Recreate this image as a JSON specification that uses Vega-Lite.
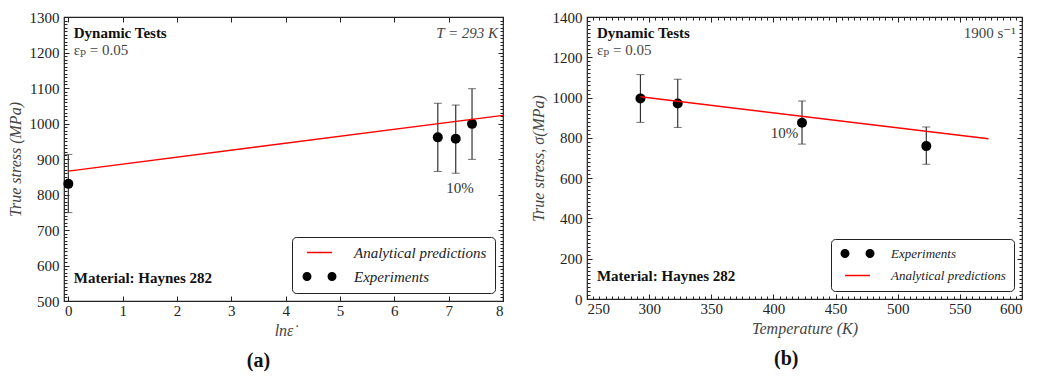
{
  "$schema": "https://vega.github.io/schema/vega-lite/v6.json",
  "background": "white",
  "padding": {"left": 6, "top": 9, "right": 5, "bottom": 5},
  "spacing": 18,
  "config": {
    "font": "Liberation Serif, DejaVu Serif, serif",
    "view": {"stroke": "#222", "strokeWidth": 1.2},
    "axis": {"domain": false, "grid": false, "tickColor": "#222", "tickSize": -5, "tickWidth": 1, "labelFont": "Liberation Serif, DejaVu Serif, serif", "labelFontSize": 15, "labelColor": "#222", "labelPadding": 10, "format": "d", "titleFont": "Liberation Serif, DejaVu Serif, serif", "titleFontStyle": "italic", "titleFontWeight": "normal", "titleFontSize": 16, "titleColor": "#444"},
    "axisX": {"labelPadding": 7, "titlePadding": 4},
    "axisY": {"titlePadding": 6},
    "legend": {"orient": "bottom-right", "offset": 8, "strokeColor": "#222", "fillColor": "white", "cornerRadius": 4, "padding": 8, "labelFont": "Liberation Serif, DejaVu Serif, serif", "labelFontStyle": "italic", "labelFontSize": 15, "labelColor": "#222", "symbolSize": 100, "symbolOffset": 12, "labelOffset": 27, "rowPadding": 8, "symbolOpacity": 1, "symbolStrokeWidth": 0},
    "text": {"font": "Liberation Serif, DejaVu Serif, serif"},
    "title": {"font": "Liberation Serif, DejaVu Serif, serif", "fontSize": 20, "fontWeight": "bold", "color": "#111", "orient": "bottom", "offset": 13, "frame": "bounds", "anchor": "middle"}
  },
  "resolve": {"scale": {"color": "independent", "shape": "independent"}, "legend": {"color": "independent", "shape": "independent"}},
  "hconcat": [
    {
      "width": 439,
      "height": 284,
      "title": {"text": "(a)"},
      "data": {"values": [
        {"series": "Analytical predictions", "x": 0, "y": 866},
        {"series": "Analytical predictions", "x": 8, "y": 1023},
        {"series": "Experiments", "x": 0, "y": 830, "lo": 749, "hi": 913},
        {"series": "Experiments", "x": 6.8, "y": 961, "lo": 865, "hi": 1057},
        {"series": "Experiments", "x": 7.13, "y": 957, "lo": 860, "hi": 1052},
        {"series": "Experiments", "x": 7.43, "y": 999, "lo": 899, "hi": 1098}
      ]},
      "resolve": {"axis": {"x": "independent", "y": "independent"}},
      "layer": [
        {
          "transform": [{"filter": "datum.series === 'Experiments'"}],
          "mark": {"type": "errorbar", "ticks": {"size": 8, "color": "#333"}, "rule": {"color": "#333", "strokeWidth": 1.2}},
          "encoding": {
            "x": {"field": "x", "type": "quantitative", "scale": {"domain": [-0.08, 8], "nice": false, "zero": false}, "axis": {"orient": "bottom", "title": "lnε̇", "tickCount": 9}},
            "y": {"field": "lo", "type": "quantitative", "scale": {"domain": [500, 1300], "nice": false, "zero": false}, "axis": {"orient": "left", "title": "True stress (MPa)", "tickCount": 8}},
            "y2": {"field": "hi"}
          }
        },
        {
          "transform": [{"filter": "datum.series === 'Experiments'"}],
          "mark": {"type": "circle", "size": 100, "color": "black", "opacity": 1},
          "encoding": {
            "x": {"field": "x", "type": "quantitative", "scale": {"domain": [-0.08, 8], "nice": false, "zero": false}, "axis": {"orient": "top", "title": null, "labels": false, "tickCount": 9}},
            "y": {"field": "y", "type": "quantitative", "scale": {"domain": [500, 1300], "nice": false, "zero": false}, "axis": {"orient": "right", "title": null, "labels": false, "tickCount": 8}}
          }
        },
        {
          "transform": [{"filter": "datum.series === 'Analytical predictions'"}],
          "mark": {"type": "line", "color": "red", "strokeWidth": 1.3},
          "encoding": {
            "x": {"field": "x", "type": "quantitative", "scale": {"domain": [-0.08, 8], "nice": false, "zero": false}, "axis": null},
            "y": {"field": "y", "type": "quantitative", "scale": {"domain": [500, 1300], "nice": false, "zero": false}, "axis": {"orient": "left", "title": null, "labels": false, "tickCount": 80, "tickSize": -3}}
          }
        },
        {
          "mark": {"type": "point", "filled": true, "opacity": 0},
          "encoding": {
            "x": {"field": "x", "type": "quantitative", "scale": {"domain": [-0.08, 8], "nice": false, "zero": false}, "axis": null},
            "y": {"field": "y", "type": "quantitative", "scale": {"domain": [500, 1300], "nice": false, "zero": false}, "axis": {"orient": "right", "title": null, "labels": false, "tickCount": 80, "tickSize": -3}},
            "color": {"field": "series", "type": "nominal", "scale": {"domain": ["Analytical predictions", "Experiments"], "range": ["red", "black"]}, "legend": {"title": null}},
            "shape": {"field": "series", "type": "nominal", "scale": {"domain": ["Analytical predictions", "Experiments"], "range": ["M-2.5,-0.15L2.5,-0.15L2.5,0.15L-2.5,0.15Z", "M-3.4,0A0.9,0.9 0 1,0 -1.6,0A0.9,0.9 0 1,0 -3.4,0Z M1.6,0A0.9,0.9 0 1,0 3.4,0A0.9,0.9 0 1,0 1.6,0Z"]}, "legend": {"title": null}}
          }
        },
        {
          "data": {"values": [{}]},
          "mark": {"type": "text", "text": "Dynamic Tests", "align": "left", "baseline": "middle", "fontWeight": "bold", "fontSize": 15, "color": "#111"},
          "encoding": {
            "x": {"datum": 0.1, "type": "quantitative", "scale": {"domain": [-0.08, 8], "nice": false, "zero": false}, "axis": null},
            "y": {"datum": 1255, "type": "quantitative", "scale": {"domain": [500, 1300], "nice": false, "zero": false}, "axis": null}
          }
        },
        {
          "data": {"values": [{}]},
          "mark": {"type": "text", "text": "εₚ = 0.05", "align": "left", "baseline": "middle", "fontSize": 15, "color": "#444"},
          "encoding": {
            "x": {"datum": 0.1, "type": "quantitative", "scale": {"domain": [-0.08, 8], "nice": false, "zero": false}, "axis": null},
            "y": {"datum": 1207, "type": "quantitative", "scale": {"domain": [500, 1300], "nice": false, "zero": false}, "axis": null}
          }
        },
        {
          "data": {"values": [{}]},
          "mark": {"type": "text", "text": "T = 293 K", "align": "right", "baseline": "middle", "fontSize": 15, "fontStyle": "italic", "color": "#444"},
          "encoding": {
            "x": {"datum": 7.91, "type": "quantitative", "scale": {"domain": [-0.08, 8], "nice": false, "zero": false}, "axis": null},
            "y": {"datum": 1255, "type": "quantitative", "scale": {"domain": [500, 1300], "nice": false, "zero": false}, "axis": null}
          }
        },
        {
          "data": {"values": [{}]},
          "mark": {"type": "text", "text": "Material: Haynes 282", "align": "left", "baseline": "middle", "fontWeight": "bold", "fontSize": 15, "color": "#111"},
          "encoding": {
            "x": {"datum": 0.1, "type": "quantitative", "scale": {"domain": [-0.08, 8], "nice": false, "zero": false}, "axis": null},
            "y": {"datum": 564, "type": "quantitative", "scale": {"domain": [500, 1300], "nice": false, "zero": false}, "axis": null}
          }
        },
        {
          "data": {"values": [{}]},
          "mark": {"type": "text", "text": "10%", "align": "center", "baseline": "middle", "fontSize": 15, "color": "#333"},
          "encoding": {
            "x": {"datum": 7.21, "type": "quantitative", "scale": {"domain": [-0.08, 8], "nice": false, "zero": false}, "axis": null},
            "y": {"datum": 817, "type": "quantitative", "scale": {"domain": [500, 1300], "nice": false, "zero": false}, "axis": null}
          }
        }
      ]
    },
    {
      "width": 435,
      "height": 282,
      "title": {"text": "(b)", "dx": 10},
      "data": {"values": [
        {"series": "Analytical predictions", "x": 293, "y": 1004},
        {"series": "Analytical predictions", "x": 573, "y": 795},
        {"series": "Experiments", "x": 293, "y": 996, "lo": 877, "hi": 1114},
        {"series": "Experiments", "x": 323, "y": 971, "lo": 852, "hi": 1091},
        {"series": "Experiments", "x": 423, "y": 875, "lo": 769, "hi": 983},
        {"series": "Experiments", "x": 523, "y": 759, "lo": 669, "hi": 854}
      ]},
      "resolve": {"axis": {"x": "independent", "y": "independent"}},
      "layer": [
        {
          "transform": [{"filter": "datum.series === 'Experiments'"}],
          "mark": {"type": "errorbar", "ticks": {"size": 8, "color": "#333"}, "rule": {"color": "#333", "strokeWidth": 1.2}},
          "encoding": {
            "x": {"field": "x", "type": "quantitative", "scale": {"domain": [250, 600], "nice": false, "zero": false}, "axis": {"orient": "bottom", "title": "Temperature (K)", "tickCount": 7}},
            "y": {"field": "lo", "type": "quantitative", "scale": {"domain": [0, 1400], "nice": false, "zero": false}, "axis": {"orient": "left", "title": "True stress, σ(MPa)", "tickCount": 7}},
            "y2": {"field": "hi"}
          }
        },
        {
          "transform": [{"filter": "datum.series === 'Experiments'"}],
          "mark": {"type": "circle", "size": 100, "color": "black", "opacity": 1},
          "encoding": {
            "x": {"field": "x", "type": "quantitative", "scale": {"domain": [250, 600], "nice": false, "zero": false}, "axis": {"orient": "top", "title": null, "labels": false, "tickCount": 7}},
            "y": {"field": "y", "type": "quantitative", "scale": {"domain": [0, 1400], "nice": false, "zero": false}, "axis": {"orient": "right", "title": null, "labels": false, "tickCount": 7}}
          }
        },
        {
          "transform": [{"filter": "datum.series === 'Analytical predictions'"}],
          "mark": {"type": "line", "color": "red", "strokeWidth": 1.5},
          "encoding": {
            "x": {"field": "x", "type": "quantitative", "scale": {"domain": [250, 600], "nice": false, "zero": false}, "axis": {"orient": "bottom", "title": null, "labels": false, "tickCount": 70, "tickSize": -3}},
            "y": {"field": "y", "type": "quantitative", "scale": {"domain": [0, 1400], "nice": false, "zero": false}, "axis": {"orient": "left", "title": null, "labels": false, "tickCount": 70, "tickSize": -3}}
          }
        },
        {
          "mark": {"type": "point", "filled": true, "opacity": 0},
          "encoding": {
            "x": {"field": "x", "type": "quantitative", "scale": {"domain": [250, 600], "nice": false, "zero": false}, "axis": {"orient": "top", "title": null, "labels": false, "tickCount": 70, "tickSize": -3}},
            "y": {"field": "y", "type": "quantitative", "scale": {"domain": [0, 1400], "nice": false, "zero": false}, "axis": {"orient": "right", "title": null, "labels": false, "tickCount": 70, "tickSize": -3}},
            "color": {"field": "series", "type": "nominal", "scale": {"domain": ["Experiments", "Analytical predictions"], "range": ["black", "red"]}, "legend": {"title": null, "labelFontSize": 13}},
            "shape": {"field": "series", "type": "nominal", "scale": {"domain": ["Experiments", "Analytical predictions"], "range": ["M-3.4,0A0.9,0.9 0 1,0 -1.6,0A0.9,0.9 0 1,0 -3.4,0Z M1.6,0A0.9,0.9 0 1,0 3.4,0A0.9,0.9 0 1,0 1.6,0Z", "M-2.5,-0.15L2.5,-0.15L2.5,0.15L-2.5,0.15Z"]}, "legend": {"title": null, "labelFontSize": 13}}
          }
        },
        {
          "data": {"values": [{}]},
          "mark": {"type": "text", "text": "Dynamic Tests", "align": "left", "baseline": "middle", "fontWeight": "bold", "fontSize": 15, "color": "#111"},
          "encoding": {
            "x": {"datum": 258, "type": "quantitative", "scale": {"domain": [250, 600], "nice": false, "zero": false}, "axis": null},
            "y": {"datum": 1321, "type": "quantitative", "scale": {"domain": [0, 1400], "nice": false, "zero": false}, "axis": null}
          }
        },
        {
          "data": {"values": [{}]},
          "mark": {"type": "text", "text": "εₚ = 0.05", "align": "left", "baseline": "middle", "fontSize": 15, "color": "#444"},
          "encoding": {
            "x": {"datum": 258, "type": "quantitative", "scale": {"domain": [250, 600], "nice": false, "zero": false}, "axis": null},
            "y": {"datum": 1236, "type": "quantitative", "scale": {"domain": [0, 1400], "nice": false, "zero": false}, "axis": null}
          }
        },
        {
          "data": {"values": [{}]},
          "mark": {"type": "text", "text": "1900 s⁻¹", "align": "right", "baseline": "middle", "fontSize": 15, "color": "#444"},
          "encoding": {
            "x": {"datum": 595, "type": "quantitative", "scale": {"domain": [250, 600], "nice": false, "zero": false}, "axis": null},
            "y": {"datum": 1321, "type": "quantitative", "scale": {"domain": [0, 1400], "nice": false, "zero": false}, "axis": null}
          }
        },
        {
          "data": {"values": [{}]},
          "mark": {"type": "text", "text": "Material: Haynes 282", "align": "left", "baseline": "middle", "fontWeight": "bold", "fontSize": 15, "color": "#111"},
          "encoding": {
            "x": {"datum": 258, "type": "quantitative", "scale": {"domain": [250, 600], "nice": false, "zero": false}, "axis": null},
            "y": {"datum": 114, "type": "quantitative", "scale": {"domain": [0, 1400], "nice": false, "zero": false}, "axis": null}
          }
        },
        {
          "data": {"values": [{}]},
          "mark": {"type": "text", "text": "10%", "align": "right", "baseline": "middle", "fontSize": 15, "color": "#333"},
          "encoding": {
            "x": {"datum": 420, "type": "quantitative", "scale": {"domain": [250, 600], "nice": false, "zero": false}, "axis": null},
            "y": {"datum": 824, "type": "quantitative", "scale": {"domain": [0, 1400], "nice": false, "zero": false}, "axis": null}
          }
        }
      ]
    }
  ]
}
